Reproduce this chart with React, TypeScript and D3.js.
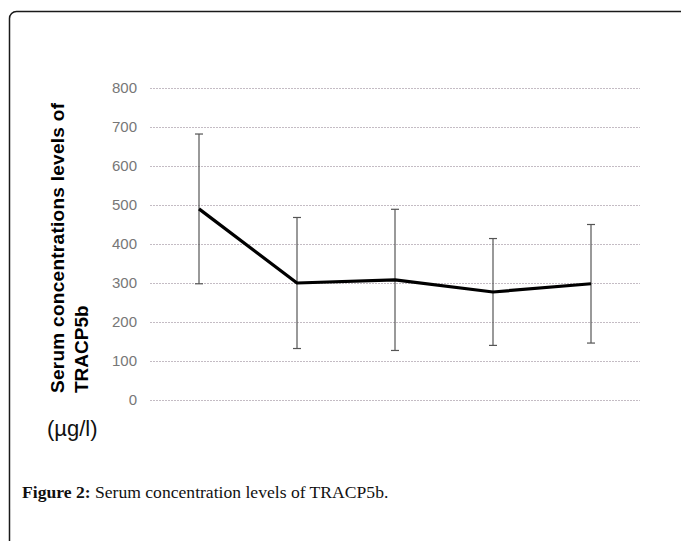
import { useEffect, useRef } from "react";
import * as d3 from "d3";

const groups = ["g1", "g2", "g3", "g4", "g5"];
const means = [490, 300, 308, 277, 298];
const errors = [192, 168, 181, 137, 152];
const yTicks = [0, 100, 200, 300, 400, 500, 600, 700, 800];

const W = 681;
const H = 541;

export default function App() {
  const svgRef = useRef<SVGSVGElement | null>(null);

  useEffect(() => {
    const svg = d3.select(svgRef.current);
    svg.selectAll("*").remove();

    const margin = { top: 88, left: 150, right: 41, bottom: 141 };
    const innerW = W - margin.left - margin.right;
    const innerH = H - margin.top - margin.bottom;

    // frame
    svg
      .append("rect")
      .attr("x", 9.5)
      .attr("y", 11.5)
      .attr("width", W + 20)
      .attr("height", H + 20)
      .attr("rx", 7)
      .attr("fill", "none")
      .attr("stroke", "#1a1a1a")
      .attr("stroke-width", 1.5);

    const x = d3.scaleBand().domain(groups).range([0, innerW]);
    const y = d3.scaleLinear().domain([0, 800]).range([innerH, 0]);

    const g = svg
      .append("g")
      .attr("transform", `translate(${margin.left},${margin.top})`);

    // y axis with gridlines
    const yAxis = g.append("g").call(
      d3
        .axisLeft(y)
        .tickValues(yTicks)
        .tickSize(-innerW)
        .tickPadding(13)
    );
    yAxis.select(".domain").remove();
    yAxis
      .selectAll(".tick line")
      .attr("stroke", "#c4bcc4")
      .attr("stroke-width", 1)
      .attr("stroke-dasharray", "2,1");
    yAxis
      .selectAll(".tick text")
      .attr("fill", "#777")
      .attr("font-family", "Arial, 'Liberation Sans', sans-serif")
      .attr("font-size", 15);

    const cx = (d: string) => (x(d) || 0) + x.bandwidth() / 2;

    // error bars
    const eb = g
      .selectAll(".err")
      .data(groups)
      .enter()
      .append("g")
      .attr("class", "err")
      .attr("stroke", "#555")
      .attr("stroke-width", 1.2);
    eb.append("line")
      .attr("x1", cx)
      .attr("x2", cx)
      .attr("y1", (_, i) => y(means[i] + errors[i]))
      .attr("y2", (_, i) => y(means[i] - errors[i]));
    eb.append("line")
      .attr("x1", (d) => cx(d) - 4)
      .attr("x2", (d) => cx(d) + 4)
      .attr("y1", (_, i) => y(means[i] + errors[i]))
      .attr("y2", (_, i) => y(means[i] + errors[i]));
    eb.append("line")
      .attr("x1", (d) => cx(d) - 4)
      .attr("x2", (d) => cx(d) + 4)
      .attr("y1", (_, i) => y(means[i] - errors[i]))
      .attr("y2", (_, i) => y(means[i] - errors[i]));

    // mean line
    const line = d3
      .line<number>()
      .x((_, i) => cx(groups[i]))
      .y((d) => y(d));
    g.append("path")
      .datum(means)
      .attr("d", line)
      .attr("fill", "none")
      .attr("stroke", "#000")
      .attr("stroke-width", 3.2)
      .attr("stroke-linejoin", "round");

    // y axis title
    const title = svg
      .append("text")
      .attr("transform", "translate(64,393) rotate(-90)")
      .attr("font-family", "Arial, 'Liberation Sans', sans-serif")
      .attr("font-weight", "bold")
      .attr("font-size", 19)
      .attr("fill", "#000");
    title
      .append("tspan")
      .attr("x", 0)
      .attr("y", 0)
      .attr("textLength", 290)
      .text("Serum concentrations levels of");
    title.append("tspan").attr("x", 0).attr("y", 24).text("TRACP5b");

    svg
      .append("text")
      .attr("x", 47)
      .attr("y", 436)
      .attr("font-family", "Arial, 'Liberation Sans', sans-serif")
      .attr("font-size", 22)
      .attr("fill", "#111")
      .text("(µg/l)");

    // caption
    const cap = svg
      .append("text")
      .attr("x", 22)
      .attr("y", 498)
      .attr("font-family", "'Liberation Serif', 'DejaVu Serif', serif")
      .attr("font-size", 17.6)
      .attr("fill", "#111");
    cap.append("tspan").attr("font-weight", "bold").text("Figure 2:");
    cap.append("tspan").text(" Serum concentration levels of TRACP5b.");
  }, []);

  return (
    <svg
      ref={svgRef}
      width={W}
      height={H}
      style={{ position: "absolute", left: 0, top: 0, background: "#fff" }}
    ></svg>
  );
}
